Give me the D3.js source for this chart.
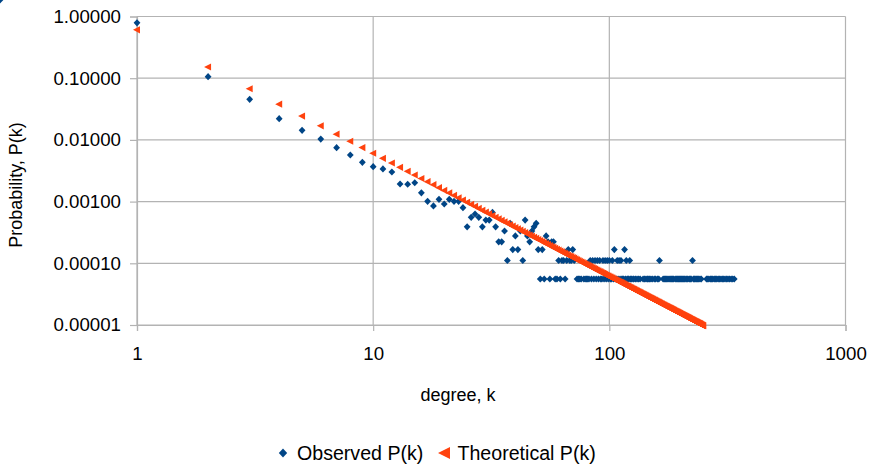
<!DOCTYPE html>
<html><head><meta charset="utf-8">
<script src="https://cdn.jsdelivr.net/npm/d3@7"></script>
<style>
html,body{margin:0;padding:0;background:#fff;}
text{font-family:"Liberation Sans",Arial,sans-serif;}
</style></head>
<body>
<svg id="chart" width="870" height="466"></svg>
<script>
// ---------- data ----------
const xTicks = [1, 10, 100, 1000];
const yTicks = [1, 0.1, 0.01, 0.001, 0.0001, 0.00001];
const seriesNames = ["Observed P(k)", "Theoretical P(k)"];
const xTitle = "degree, k";
const yTitle = "Probability, P(k)";

const observedK = [1,2,3,4,5,6,7,8,9,10,11,12,13,14,15,16,17,18,19,20,21,22,23,24,25,26,27,28,29,30,
31,32,33,34,35,36,37,38,39,40,41,42,43,44,45,46,47,48,49,50,51,52,53,54,55,56,57,58,59,60,
61,62,63,64,65,66,67,68,69,70,71,73,74,75,76,78,79,80,81,82,83,84,85,86,87,88,89,90,91,92,93,94,95,96,97,98,99,100,
101,102,103,104,105,106,107,108,109,110,111,112,113,114,115,116,117,118,119,120,121,122,123,124,126,127,129,131,133,135,
139,141,143,145,146,148,150,152,155,157,160,162,163,169,171,173,175,177,179,181,183,185,187,190,192,194,196,198,200,
202,204,206,208,211,213,215,218,220,222,225,227,229,231,234,236,239,242,245,
258,261,264,268,271,274,278,281,285,289,293,297,301,305,309,314,318,323,328,333,338,344];
const observedP = [0.79,0.106,0.0455,0.0221,0.0143,0.0103,0.00748,0.00569,0.00433,0.00368,0.00338,0.00302,
0.00193,0.00191,0.00202,0.00139,0.00101,0.00085,0.00109,0.000914,0.00109,0.00101,0.00101,0.000796,0.000390,
0.000557,0.000629,0.000557,0.000390,0.000501,0.000501,0.000668,0.000390,0.000223,0.000223,0.000334,0.000111,
0.000445,0.000167,0.000278,0.000167,0.000334,0.000111,0.000501,0.000278,0.000223,0.000334,0.000390,0.000445,
0.000167,0.0000557,0.000167,0.0000557,0.000278,0.000223,0.0000557,0.000223,0.000223,0.0000557,0.0000557,
0.000111,0.0000557,0.000111,0.000111,0.0000557,0.000111,0.000167,0.000111,0.000111,0.000167,0.000111,
0.0000557,0.0000557,0.0000557,0.0000557,0.0000557,0.0000557,0.0000557,0.0000557,0.0000557,0.000111,0.0000557,
0.000111,0.0000557,0.000111,0.0000557,0.000111,0.0000557,0.000111,0.0000557,0.0000557,0.000111,0.0000557,0.000111,
0.0000557,0.000111,0.0000557,0.000111,
0.0000557,0.0000557,0.000111,0.0000557,0.000167,0.0000557,0.0000557,0.000111,0.0000557,0.000111,0.0000557,0.000111,
0.0000557,0.0000557,0.0000557,0.000167,0.0000557,0.000111,0.0000557,0.0000557,0.0000557,0.000111,0.0000557,0.0000557,
0.0000557,0.0000557,0.0000557,0.0000557,0.0000557,0.0000557,
0.0000557,0.0000557,0.0000557,0.0000557,0.0000557,0.0000557,0.0000557,0.0000557,0.0000557,0.0000557,0.0000557,0.0000557,
0.000111,0.0000557,0.0000557,0.0000557,0.0000557,0.0000557,0.0000557,0.0000557,0.0000557,0.0000557,0.0000557,0.0000557,
0.0000557,0.0000557,0.0000557,0.0000557,0.0000557,
0.0000557,0.0000557,0.0000557,0.0000557,0.0000557,0.0000557,0.0000557,0.0000557,0.0000557,0.0000557,0.000111,
0.0000557,0.0000557,0.0000557,0.0000557,0.0000557,0.0000557,0.0000557,
0.0000557,0.0000557,0.0000557,0.0000557,0.0000557,0.0000557,0.0000557,0.0000557,0.0000557,0.0000557,0.0000557,
0.0000557,0.0000557,0.0000557,0.0000557,0.0000557,0.0000557,0.0000557,0.0000557,0.0000557,0.0000557,0.0000557];

const theoreticalP = [0.608,0.152,0.0675,0.0380,0.0243,0.0169,0.0124,0.00950,0.00750,0.00608,
0.00502,0.00422,0.00360,0.00310,0.00270,0.00237,0.00210,0.00188,0.00168,0.00152,
0.00138,0.00126,0.00115,0.00106,0.000973,0.000899,0.000834,0.000775,0.000723,0.000675,
6.33e-4,5.94e-4,5.58e-4,5.26e-4,4.96e-4,4.69e-4,4.44e-4,4.21e-4,4.00e-4,3.80e-4,
3.62e-4,3.45e-4,3.29e-4,3.14e-4,3.00e-4,2.87e-4,2.75e-4,2.64e-4,2.53e-4,2.43e-4,
2.34e-4,2.25e-4,2.16e-4,2.08e-4,2.01e-4,1.94e-4,1.87e-4,1.81e-4,1.75e-4,1.69e-4,
1.63e-4,1.58e-4,1.53e-4,1.48e-4,1.44e-4,1.40e-4,1.35e-4,1.31e-4,1.28e-4,1.24e-4,
1.21e-4,1.17e-4,1.14e-4,1.11e-4,1.08e-4,1.05e-4,1.03e-4,9.99e-5,9.74e-5,9.50e-5,
9.27e-5,9.04e-5,8.82e-5,8.62e-5,8.41e-5,8.22e-5,8.03e-5,7.85e-5,7.67e-5,7.50e-5,
7.34e-5,7.18e-5,7.03e-5,6.88e-5,6.74e-5,6.60e-5,6.46e-5,6.33e-5,6.20e-5,6.08e-5,
5.96e-5,5.84e-5,5.73e-5,5.62e-5,5.51e-5,5.41e-5,5.31e-5,5.21e-5,5.12e-5,5.02e-5,
4.93e-5,4.85e-5,4.76e-5,4.68e-5,4.60e-5,4.52e-5,4.44e-5,4.37e-5,4.29e-5,4.22e-5,
4.15e-5,4.08e-5,4.02e-5,3.95e-5,3.89e-5,3.83e-5,3.77e-5,3.71e-5,3.65e-5,3.60e-5,
3.54e-5,3.49e-5,3.44e-5,3.39e-5,3.34e-5,3.29e-5,3.24e-5,3.19e-5,3.15e-5,3.10e-5,
3.06e-5,3.01e-5,2.97e-5,2.93e-5,2.89e-5,2.85e-5,2.81e-5,2.78e-5,2.74e-5,2.70e-5,
2.67e-5,2.63e-5,2.60e-5,2.56e-5,2.53e-5,2.50e-5,2.47e-5,2.44e-5,2.40e-5,2.37e-5,
2.35e-5,2.32e-5,2.29e-5,2.26e-5,2.23e-5,2.21e-5,2.18e-5,2.15e-5,2.13e-5,2.10e-5,
2.08e-5,2.05e-5,2.03e-5,2.01e-5,1.99e-5,1.96e-5,1.94e-5,1.92e-5,1.90e-5,1.88e-5,
1.86e-5,1.84e-5,1.82e-5,1.80e-5,1.78e-5,1.76e-5,1.74e-5,1.72e-5,1.70e-5,1.68e-5,
1.67e-5,1.65e-5,1.63e-5,1.62e-5,1.60e-5,1.58e-5,1.57e-5,1.55e-5,1.54e-5,1.52e-5,
1.50e-5,1.49e-5,1.48e-5,1.46e-5,1.45e-5,1.43e-5,1.42e-5,1.41e-5,1.39e-5,1.38e-5,
1.37e-5,1.35e-5,1.34e-5,1.33e-5,1.32e-5,1.30e-5,1.29e-5,1.28e-5,1.27e-5,1.26e-5,
1.24e-5,1.23e-5,1.22e-5,1.21e-5,1.20e-5,1.19e-5,1.18e-5,1.17e-5,1.16e-5,1.15e-5,
1.14e-5,1.13e-5,1.12e-5,1.11e-5,1.10e-5,1.09e-5,1.08e-5,1.07e-5,1.06e-5,1.06e-5,
1.05e-5,1.04e-5,1.03e-5,1.02e-5,1.01e-5,1.00e-5,9.96e-6,9.88e-6,9.80e-6,9.73e-6];
const theoreticalK = theoreticalP.map((_, i) => i + 1);

// ---------- layout ----------
const colors = ["#004586", "#ff420e"];
const gridColor = "#b3b3b3";
const plotL = 137, plotR = 845.5, plotT = 16.5, plotB = 325;

const svg = d3.select("#chart");
svg.append("rect").attr("width", 870).attr("height", 466).attr("fill", "#fff");

const x = d3.scaleLog().domain([1, 1000]).range([plotL, plotR]);
const y = d3.scaleLog().domain([0.00001, 1]).range([plotB, plotT]);

// grid
const g = svg.append("g");
g.selectAll("line.gx").data(xTicks).join("line").attr("class", "gx")
  .attr("x1", d => x(d)).attr("x2", d => x(d)).attr("y1", plotT).attr("y2", plotB)
  .attr("stroke", gridColor).attr("stroke-width", 1.2);
g.selectAll("line.gy").data(yTicks).join("line").attr("class", "gy")
  .attr("y1", d => y(d)).attr("y2", d => y(d)).attr("x1", plotL).attr("x2", plotR)
  .attr("stroke", gridColor).attr("stroke-width", 1.2);

// axes
const xAxis = svg.append("g").attr("transform", `translate(0,${plotB})`)
  .call(d3.axisBottom(x).tickValues(xTicks).tickFormat(d3.format("d")).tickSize(6).tickPadding(16));
const yAxis = svg.append("g").attr("transform", `translate(${plotL},0)`)
  .call(d3.axisLeft(y).tickValues(yTicks).tickFormat(d => d.toFixed(5)).tickSize(7).tickPadding(9));
[xAxis, yAxis].forEach(a => {
  a.selectAll("path.domain").attr("stroke", gridColor).attr("stroke-width", 1.2);
  a.selectAll(".tick line").attr("stroke", gridColor).attr("stroke-width", 1.2);
  a.selectAll(".tick text").attr("fill", "#000").style("font-size", "18.7px")
    .style("font-family", '"Liberation Sans", Arial, sans-serif');
});

// axis titles
svg.append("text").attr("x", 458).attr("y", 401).attr("text-anchor", "middle")
  .style("font-size", "18px").text(xTitle);
svg.append("text").attr("transform", "translate(22,185) rotate(-90)").attr("text-anchor", "middle")
  .style("font-size", "18px").text(yTitle);

// markers
const diamond = "M0,-3.6L3.4,0L0,3.6L-3.4,0Z";
const triangle = "M-4,0L3,-3.6L3,3.6Z";

const obs = observedK.map((k, i) => ({k, p: observedP[i]}));
const theo = theoreticalK.map((k, i) => ({k, p: theoreticalP[i]}));

svg.append("g").selectAll("path").data(obs).join("path")
  .attr("d", diamond).attr("fill", colors[0])
  .attr("transform", d => `translate(${x(d.k)},${y(d.p)})`);
svg.append("g").selectAll("path").data(theo).join("path")
  .attr("d", triangle).attr("fill", colors[1])
  .attr("transform", d => `translate(${x(d.k)},${y(d.p)})`);

// legend
const lg = svg.append("g");
lg.append("path").attr("d", "M0,-4.5L4.2,0L0,4.5L-4.2,0Z").attr("fill", colors[0])
  .attr("transform", "translate(283,453)");
lg.append("text").attr("x", 297).attr("y", 459.5).style("font-size", "19.6px").text(seriesNames[0]);
lg.append("path").attr("d", "M-6,0L6,-6L6,6Z").attr("fill", colors[1])
  .attr("transform", "translate(444,453)");
lg.append("text").attr("x", 457.5).attr("y", 459.5).style("font-size", "19.6px").text(seriesNames[1]);
</script>
</body></html>
